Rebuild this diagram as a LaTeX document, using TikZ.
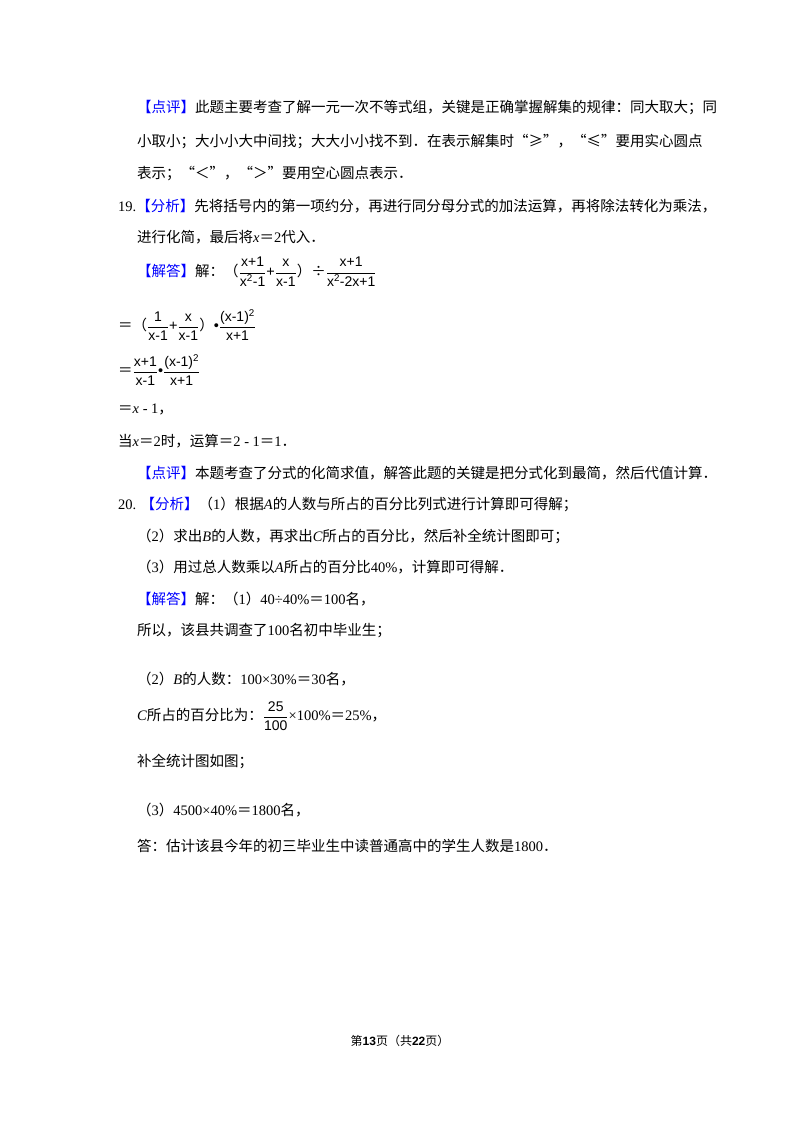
\documentclass[tikz,border=0pt]{standalone}
\usepackage{fontspec}
\usepackage{amsmath}
\setmainfont{Noto Sans CJK SC}
\newfontfamily\lat{Liberation Serif}
\newfontfamily\fs{Liberation Sans}
\newcommand\vx[1]{{\lat\itshape #1}}
\newcommand\nm[1]{{\lat #1}}
\newcommand\bl[1]{\textcolor{blue}{#1}}
\newcommand\fr[2]{$\dfrac{\hbox{\fs\fontsize{14}{14}\selectfont #1}}{\hbox{\fs\fontsize{14}{14}\selectfont #2}}$}
\newcommand\sq{\textsuperscript{\fs 2}}
\newcommand\mn{{\lat\ -\ }}
\begin{document}
\begin{tikzpicture}[x=1pt,y=-1pt,
  ln/.style={anchor=west,inner sep=0pt,font=\fontsize{14.5}{15}\selectfont}]
\useasboundingbox (0,0) rectangle (800,1132);
\node[ln] (l1) at (137,108) {\bl{【点评】}此题主要考查了解一元一次不等式组，关键是正确掌握解集的规律：同大取大；同};
\node[ln] (l2) at (137,142) {小取小；大小小大中间找；大大小小找不到．在表示解集时“≥”，“≤”要用实心圆点};
\node[ln] (l3) at (137,174) {表示；“＜”，“＞”要用空心圆点表示．};
\node[ln] (l4) at (118,206) {\nm{19.}\bl{【分析】}先将括号内的第一项约分，再进行同分母分式的加法运算，再将除法转化为乘法，};
\node[ln] (l5) at (137,237) {进行化简，最后将\vx{x}＝\nm{2}代入．};
\node[ln] (l6) at (137,272) {\bl{【解答】}解：（\fr{x+1}{x\sq-1}{\fs +}\fr{x}{x-1}）÷\fr{x+1}{x\sq-2x+1}};
\node[ln] (l7) at (118,325) {＝（\fr{1}{x-1}{\fs +}\fr{x}{x-1}）{\fs •}\fr{(x-1)\sq}{x+1}};
\node[ln] (l8) at (118,370) {＝\fr{x+1}{x-1}{\fs •}\fr{(x-1)\sq}{x+1}};
\node[ln] (l9) at (118,409) {＝\vx{x}\mn\nm{1}，};
\node[ln] (l10) at (118,441) {当\vx{x}＝\nm{2}时，运算＝\nm{2}\mn\nm{1}＝\nm{1}．};
\node[ln] (l11) at (137,473) {\bl{【点评】}本题考查了分式的化简求值，解答此题的关键是把分式化到最简，然后代值计算．};
\node[ln] (l12) at (118,504) {\nm{20.} \bl{【分析】}（\nm{1}）根据\vx{A}的人数与所占的百分比列式进行计算即可得解；};
\node[ln] (l13) at (137,536) {（\nm{2}）求出\vx{B}的人数，再求出\vx{C}所占的百分比，然后补全统计图即可；};
\node[ln] (l14) at (137,567) {（\nm{3}）用过总人数乘以\vx{A}所占的百分比\nm{40\%}，计算即可得解．};
\node[ln] (l15) at (137,599) {\bl{【解答】}解：（\nm{1}）\nm{40÷40\%}＝\nm{100}名，};
\node[ln] (l16) at (137,631) {所以，该县共调查了\nm{100}名初中毕业生；};
\node[ln] (l17) at (137,679) {（\nm{2}）\vx{B}的人数：\nm{100×30\%}＝\nm{30}名，};
\node[ln] (l18) at (137,716) {\vx{C}所占的百分比为：\fr{25}{100}\nm{×100\%}＝\nm{25\%}，};
\node[ln] (l19) at (137,761) {补全统计图如图；};
\node[ln] (l20) at (137,810) {（\nm{3}）\nm{4500×40\%}＝\nm{1800}名，};
\node[ln] (l21) at (137,846) {答：估计该县今年的初三毕业生中读普通高中的学生人数是\nm{1800}．};
\node[inner sep=0pt,font=\fontsize{12}{12}\selectfont] (ft) at (400,1041) {第{\fs\bfseries 13}页（共{\fs\bfseries 22}页）};
\end{tikzpicture}
\end{document}
